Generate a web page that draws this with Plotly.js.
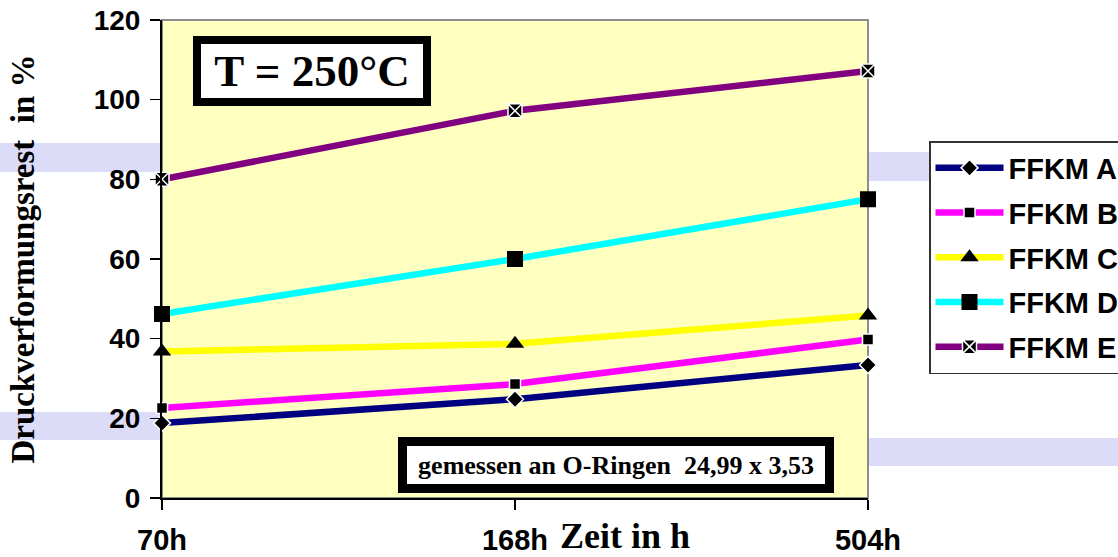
<!DOCTYPE html>
<html>
<head>
<meta charset="utf-8">
<script src="https://cdn.plot.ly/plotly-3.0.1.min.js"></script>
<style>
  html, body { margin: 0; padding: 0; background: #ffffff; }
  #chart { width: 1118px; height: 557px; }
</style>
</head>
<body>
<div id="chart"></div>
<script>
// ---- data ----
const categories = ["70h", "168h", "504h"];
const seriesNames = ["FFKM A", "FFKM B", "FFKM C", "FFKM D", "FFKM E"];
const ffkmA = [18.8, 24.8, 33.4];
const ffkmB = [22.6, 28.6, 39.8];
const ffkmC = [36.8, 38.7, 45.8];
const ffkmD = [46.2, 60.0, 75.0];
const ffkmE = [80.0, 97.2, 107.2];
const yTickValues = [0, 20, 40, 60, 80, 100, 120];

const allSeries = [ffkmA, ffkmB, ffkmC, ffkmD, ffkmE];

// ---- styles ----
const lineColors = ["#000080", "#FF00FF", "#FFFF00", "#00FFFF", "#800080"];
const markerStyles = [
  { symbol: "diamond", size: 13, color: "#000000", line: { color: "#FFFFFF", width: 1.5 } },
  { symbol: "square", size: 11, color: "#000000", line: { color: "#FFFFFF", width: 1.5 } },
  { symbol: "triangle-up", size: 16, color: "#000000", line: { color: "#000000", width: 0 } },
  { symbol: "square", size: 16, color: "#000000", line: { color: "#000000", width: 0 } },
  { symbol: "square-x", size: 14, color: "#000000", line: { color: "#FFFFFF", width: 1.5 } }
];

const traces = allSeries.map((vals, i) => ({
  type: "scatter",
  mode: "lines+markers",
  name: seriesNames[i],
  x: categories,
  y: vals,
  cliponaxis: false,
  line: { color: lineColors[i], width: 6.5 },
  marker: markerStyles[i],
  legendgroup: "g" + i
}));

// paper coordinate helpers (plot area: x 162..868 px, y 20..498 px)
const px = v => (v - 162) / 706;
const py = v => (498 - v) / 478;

const band = "#DCDCF8";
const shapes = [
  // watermark bands (outside the plot area)
  { type: "rect", xref: "paper", yref: "paper", x0: px(0), x1: px(162), y0: py(172), y1: py(143), fillcolor: band, line: { width: 0 }, layer: "below" },
  { type: "rect", xref: "paper", yref: "paper", x0: px(0), x1: px(162), y0: py(440), y1: py(412), fillcolor: band, line: { width: 0 }, layer: "below" },
  { type: "rect", xref: "paper", yref: "paper", x0: px(868), x1: px(1118), y0: py(181), y1: py(152), fillcolor: band, line: { width: 0 }, layer: "below" },
  { type: "rect", xref: "paper", yref: "paper", x0: px(868), x1: px(1118), y0: py(466), y1: py(438), fillcolor: band, line: { width: 0 }, layer: "below" },
  // plot area fill with grey frame
  { type: "rect", xref: "paper", yref: "paper", x0: 0, x1: 1, y0: 0, y1: 1, fillcolor: "#FFFFC0", line: { color: "#8C8C8C", width: 2 }, layer: "below" }
];

const layout = {
  width: 1118,
  height: 557,
  margin: { l: 162, r: 250, t: 20, b: 59, autoexpand: false },
  paper_bgcolor: "#FFFFFF",
  plot_bgcolor: "rgba(0,0,0,0)",
  showlegend: true,
  font: { family: "Liberation Sans, Arial, sans-serif", color: "#000000" },
  xaxis: {
    type: "category",
    range: [0, 2],
    showgrid: false,
    zeroline: false,
    showline: true,
    linecolor: "#000000",
    linewidth: 2,
    ticks: "outside",
    ticklen: 10,
    tickwidth: 1.5,
    tickcolor: "#000000",
    ticklabelstandoff: 5,
    tickfont: { family: "Liberation Sans, Arial, sans-serif", size: 29, color: "#000000", weight: "bold" },
    fixedrange: true
  },
  yaxis: {
    range: [0, 120],
    tickvals: yTickValues,
    ticktext: yTickValues.map(String),
    showgrid: false,
    zeroline: false,
    showline: true,
    linecolor: "#000000",
    linewidth: 2,
    ticks: "outside",
    ticklen: 10,
    tickwidth: 1.5,
    tickcolor: "#000000",
    ticklabelstandoff: 4,
    tickfont: { family: "Liberation Sans, Arial, sans-serif", size: 28, color: "#000000", weight: "bold" },
    title: {
      text: "Druckverformungsrest  in %",
      font: { family: "Liberation Serif, Times New Roman, serif", size: 33, color: "#000000", weight: "bold" },
      standoff: 49
    },
    automargin: false,
    fixedrange: true
  },
  yaxis2: {
    overlaying: "y",
    anchor: "x",
    side: "left",
    range: [0, 120],
    tickvals: yTickValues,
    showticklabels: false,
    showgrid: false,
    zeroline: false,
    showline: false,
    ticks: "inside",
    ticklen: 10,
    tickwidth: 1.5,
    tickcolor: "#000000",
    fixedrange: true
  },
  legend: {
    x: px(929),
    y: py(141),
    xanchor: "left",
    yanchor: "top",
    bgcolor: "#FFFFFF",
    bordercolor: "#333333",
    borderwidth: 1.5,
    itemwidth: 68,
    tracegroupgap: 4,
    font: { family: "Liberation Sans, Arial, sans-serif", size: 29, color: "#000000", weight: "bold" }
  },
  shapes: shapes,
  annotations: [
    {
      xref: "paper", yref: "paper",
      x: px(312), y: py(71),
      xanchor: "center", yanchor: "middle",
      text: "T = 250°C",
      showarrow: false,
      font: { family: "Liberation Serif, Times New Roman, serif", size: 45, color: "#000000", weight: "bold" },
      bgcolor: "#FFFFFF",
      bordercolor: "#000000",
      borderwidth: 8,
      borderpad: 0,
      width: 222,
      height: 54
    },
    {
      xref: "paper", yref: "paper",
      x: px(616), y: py(465),
      xanchor: "center", yanchor: "middle",
      text: "gemessen an O-Ringen  24,99 x 3,53",
      showarrow: false,
      font: { family: "Liberation Serif, Times New Roman, serif", size: 26, color: "#000000", weight: "bold" },
      bgcolor: "#FFFFFF",
      bordercolor: "#000000",
      borderwidth: 9,
      borderpad: 0,
      width: 418,
      height: 38
    },
    {
      xref: "paper", yref: "paper",
      x: px(625), y: py(536),
      xanchor: "center", yanchor: "middle",
      text: "Zeit in h",
      showarrow: false,
      font: { family: "Liberation Serif, Times New Roman, serif", size: 36, color: "#000000", weight: "bold" }
    }
  ]
};

Plotly.newPlot("chart", traces, layout, { displayModeBar: false, staticPlot: true });
</script>
</body>
</html>
